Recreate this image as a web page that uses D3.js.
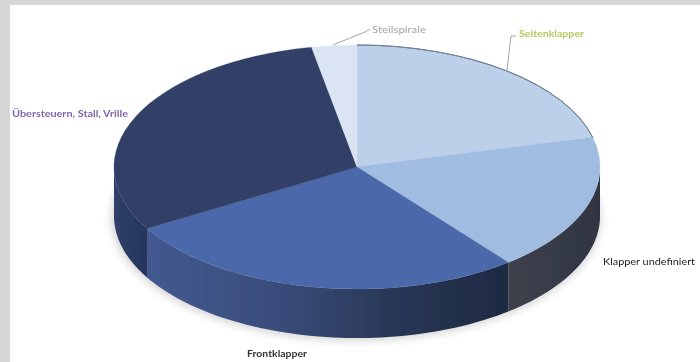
<!DOCTYPE html>
<html><head><meta charset="utf-8">
<script src="https://cdn.jsdelivr.net/npm/d3@7"></script>
<style>html,body{margin:0;padding:0;background:#fff;overflow:hidden}svg{display:block}text{font-family:Lato,"Open Sans",sans-serif}</style>
</head><body><svg id="c" width="700" height="362"></svg>
<script>
const categories = ["Seitenklapper","Klapper undefiniert","Frontklapper","Übersteuern, Stall, Vrille","Steilspirale"];
const shares = [21.1,18.2,27.3,30.4,3.0];
const topColors = ["#bdd0ea","#a0bce1","#4c68aa","#314068","#dbe4f3"];
const labelColors = ["#b4c85e","#222222","#333333","#7e66aa","#a3a3a3"];
const labelX = [519,603,247,12,372];
const labelY = [33,261,353,113,29];
const labelW = [65,92,60,116,54];
const labelWeight = [700,400,700,700,400];
const sideStops = [
  null,
  [["0%","#3d414d"],["100%","#2f3442"]],
  [["0%","#41598f"],["35%","#3a4d7c"],["70%","#283654"],["100%","#1e2a42"]],
  [["0%","#2f4068"],["100%","#25355b"]],
  null];
const leaders = [[[507,70],[511,36],[516,36]],null,null,null,[[333,45],[350,38],[365,32],[370,29]]];

const cx=357, cy=167, rx=243, ry=122, depth=49;
const svg=d3.select("#c");
const defs=svg.append("defs");
const blur=defs.append("filter").attr("id","soft").attr("x","-5%").attr("y","-5%").attr("width","110%").attr("height","110%");
blur.append("feGaussianBlur").attr("stdDeviation",0.45);
const shadow=defs.append("filter").attr("id","sh").attr("x","-10%").attr("y","-10%").attr("width","120%").attr("height","120%");
shadow.append("feGaussianBlur").attr("stdDeviation",4);

const slices=d3.pie().sort(null)(shares);
const arc=d3.arc().innerRadius(0).outerRadius(1);
const px=a=>cx+rx*Math.sin(a), py=a=>cy-ry*Math.cos(a);

// outline shape of the wall's outer surface between two angles
const wallPath=(a0,a1)=>{
  const s=Math.max(a0,Math.PI/2), e=Math.min(a1,3*Math.PI/2);
  if(e<=s) return null;
  const as=d3.range(0,61).map(i=>s+(e-s)*i/60);
  const line=d3.line().x(d=>d[0]).y(d=>d[1]);
  return line(as.map(a=>[px(a),py(a)]).concat(as.slice().reverse().map(a=>[px(a),py(a)+depth])))+"Z";
};

const root=svg.append("g").attr("filter","url(#soft)");
root.append("ellipse").attr("cx",cx-1).attr("cy",cy+depth+2).attr("rx",rx+2).attr("ry",ry+1)
  .attr("fill","#000").attr("opacity",0.16).attr("filter","url(#sh)");

// side walls
slices.forEach((s,i)=>{
  const d=wallPath(s.startAngle,s.endAngle);
  if(!d||!sideStops[i]) return;
  const id="w"+i, a0=Math.max(s.startAngle,Math.PI/2), a1=Math.min(s.endAngle,3*Math.PI/2);
  const g=defs.append("linearGradient").attr("id",id).attr("gradientUnits","userSpaceOnUse")
    .attr("x1",px(a1)).attr("x2",px(a0)).attr("y1",0).attr("y2",0);
  sideStops[i].forEach(t=>g.append("stop").attr("offset",t[0]).attr("stop-color",t[1]));
  root.append("path").attr("d",d).attr("fill",`url(#${id})`);
});

// top faces
const faces=root.append("g").attr("transform",`translate(${cx},${cy}) scale(${rx},${ry})`);
faces.selectAll("path.face").data(slices).join("path").attr("class","face").attr("d",arc)
  .attr("fill",(d,i)=>topColors[i]).attr("stroke",(d,i)=>topColors[i])
  .attr("stroke-width",0.3).attr("vector-effect","non-scaling-stroke");

// thin darker rim on the back edge
const rimArc=d3.arc().innerRadius(1).outerRadius(1);
faces.selectAll("path.rim").data(slices.slice(0,1)).join("path").attr("class","rim")
  .attr("d",d=>rimArc({startAngle:d.startAngle,endAngle:d.endAngle}))
  .attr("fill","none").attr("stroke","#6f7f95").attr("stroke-width",1).attr("vector-effect","non-scaling-stroke");

// leader lines
const ll=d3.line();
root.selectAll("path.lead").data(leaders.filter(Boolean)).join("path").attr("class","lead")
  .attr("d",ll).attr("fill","none").attr("stroke","#9a9a9a").attr("stroke-width",0.9);

// labels
root.selectAll("text").data(categories).join("text")
  .attr("x",(d,i)=>labelX[i]).attr("y",(d,i)=>labelY[i]+3.5)
  .attr("font-size",10).attr("font-weight",(d,i)=>labelWeight[i])
  .attr("fill",(d,i)=>labelColors[i])
  .attr("textLength",(d,i)=>labelW[i]).attr("lengthAdjust","spacingAndGlyphs")
  .text(d=>d);

// page frame
svg.append("rect").attr("x",0).attr("y",0).attr("width",700).attr("height",5).attr("fill","#d6d6d6");
svg.append("rect").attr("x",0).attr("y",0).attr("width",10).attr("height",362).attr("fill","#d6d6d6");
</script></body></html>
